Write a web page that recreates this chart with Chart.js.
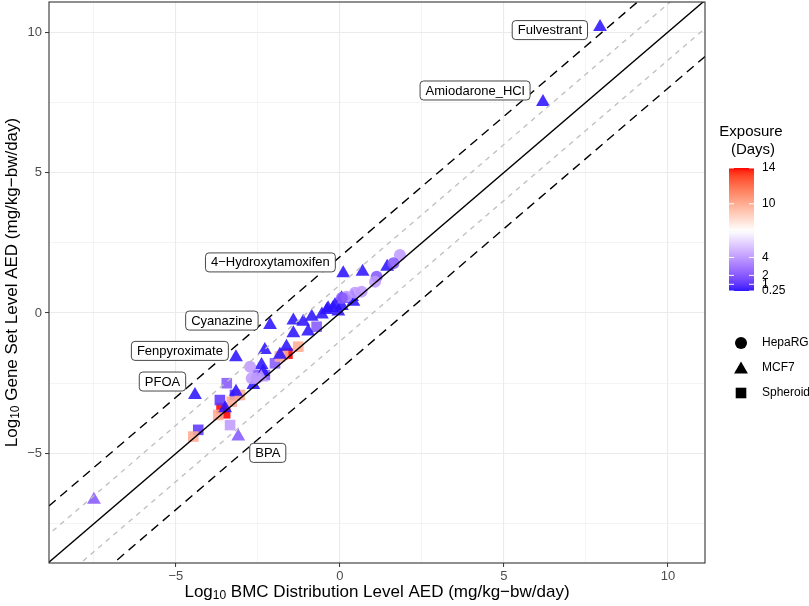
<!DOCTYPE html>
<html>
<head>
<meta charset="utf-8">
<script src="https://cdn.jsdelivr.net/npm/chart.js@4.4.1/dist/chart.umd.min.js"></script>
<style>
  html, body { margin: 0; padding: 0; background: #fff; }
</style>
</head>
<body>
<canvas id="chart" width="809" height="606"></canvas>
<script>
// HepaRG points (circles)
const hepaX   = [1.83, 1.63, 1.12, 1.07, 0.66, 0.46, 0.20, 0.06, -2.74, -2.69, -2.54];
const hepaY   = [2.06, 1.77, 1.29, 1.11, 0.76, 0.72, 0.58, 0.53, -1.91, -2.32, -2.32];
const hepaExp = [4, 2, 2, 4, 4, 4, 4, 2, 4, 4, 4];

// MCF7 points (triangles)
const mcf7X   = [7.93, 6.19, 1.44, 0.69, 0.10, 0.37, 0.21, 0.05, -0.15, -0.36, -0.40, -0.21, 0.06, 0.41,
                 -0.86, -1.12, -1.42, -1.42, -0.97, -2.13, -1.63, -1.83, -2.29, -3.17, -2.39, -2.34,
                 -2.64, -3.17, -3.50, -4.42, -7.50, -3.10, -2.40, -0.55, -0.05];
const mcf7Y   = [10.18, 7.51, 1.65, 1.47, 1.41, 0.57, 0.50, 0.52, 0.28, 0.17, 0.11, 0.18, 0.25, 0.40,
                 -0.13, -0.31, -0.27, -0.72, -0.66, -0.43, -1.20, -1.49, -1.32, -1.58, -1.85, -2.09,
                 -2.56, -2.80, -3.39, -2.92, -6.65, -4.40, -2.30, -0.05, 0.05];
const mcf7Exp = [0.25, 0.25, 0.25, 0.25, 0.25, 0.25, 0.25, 0.25, 0.25, 0.25, 0.25, 0.25, 0.25, 0.25,
                 0.25, 0.25, 0.25, 0.25, 0.25, 0.25, 0.25, 0.25, 0.25, 0.25, 0.25, 0.25,
                 0.25, 0.25, 0.25, 0.25, 2, 2, 4, 0.25, 0.25];

// Spheroid points (squares)
const sphX   = [-1.60, -3.61, -3.50, -0.71, -1.27, -1.73, -1.98, -2.29, -3.20, -3.45, -3.05, -3.30,
                -3.66, -3.71, -3.35, -4.32, -4.47, -1.83, -2.50];
const sphY   = [-1.45, -3.39, -3.57, -0.49, -1.20, -1.49, -1.79, -2.21, -2.92, -2.50, -2.92, -3.16,
                -3.10, -3.63, -3.99, -4.16, -4.40, -1.55, -2.20];
const sphExp = [14, 14, 14, 2, 10, 10, 2, 2, 1, 2, 10, 10, 1, 10, 4, 1, 10, 10, 2];

// labelled chemicals
const labelText = ['Fulvestrant', 'Amiodarone_HCl', '4\u2212Hydroxytamoxifen', 'Cyanazine', 'Fenpyroximate', 'PFOA', 'BPA'];
const labelX    = [6.40, 4.12, -2.12, -3.60, -4.88, -5.41, -2.20];
const labelY    = [10.07, 7.92, 1.80, -0.27, -1.35, -2.44, -4.98];

// reference lines y = x + offset
const refOffsets = [1, -1, 2, -2, 0];
const lineSpan = [-12, 14];

// axes
const xMin = -8.87, xMax = 11.13;
const yMin = -8.9, yMax = 11.07;
const gridValues = [-7.5, -5, -2.5, 0, 2.5, 5, 7.5, 10];
const majorValues = [-5, 0, 5, 10];

// exposure colour scale
const expBreaks = [0.25, 1, 2, 4, 10, 14];
const expMin = 0.25, expMax = 14, expMid = 7;

// ---- colour helpers (Lab interpolation like ggplot) ----
function hexToLab(hex) {
  const c = [1, 3, 5].map(i => parseInt(hex.substr(i, 2), 16) / 255)
    .map(v => v <= 0.04045 ? v / 12.92 : Math.pow((v + 0.055) / 1.055, 2.4));
  const X = (0.4124 * c[0] + 0.3576 * c[1] + 0.1805 * c[2]) / 0.95047;
  const Y = (0.2126 * c[0] + 0.7152 * c[1] + 0.0722 * c[2]);
  const Z = (0.0193 * c[0] + 0.1192 * c[1] + 0.9505 * c[2]) / 1.08883;
  const f = t => t > 0.008856 ? Math.cbrt(t) : 7.787 * t + 16 / 116;
  return [116 * f(Y) - 16, 500 * (f(X) - f(Y)), 200 * (f(Y) - f(Z))];
}

function labToRgb(lab) {
  const fy = (lab[0] + 16) / 116, fx = fy + lab[1] / 500, fz = fy - lab[2] / 200;
  const inv = t => t * t * t > 0.008856 ? t * t * t : (t - 16 / 116) / 7.787;
  const X = inv(fx) * 0.95047, Y = inv(fy), Z = inv(fz) * 1.08883;
  const lin = [
    3.2406 * X - 1.5372 * Y - 0.4986 * Z,
    -0.9689 * X + 1.8758 * Y + 0.0415 * Z,
    0.0557 * X - 0.2040 * Y + 1.0570 * Z
  ];
  return lin.map(v => {
    v = v <= 0.0031308 ? 12.92 * v : 1.055 * Math.pow(v, 1 / 2.4) - 0.055;
    return Math.round(Math.min(1, Math.max(0, v)) * 255);
  });
}

const lowLab = hexToLab('#0000FF'), midLab = hexToLab('#FFFFFF'), highLab = hexToLab('#FF0000');

function exposureColor(v, alpha) {
  const p = 0.5 + (v - expMid) / (2 * Math.max(expMid - expMin, expMax - expMid));
  let a, b, t;
  if (p < 0.5) { a = lowLab; b = midLab; t = p / 0.5; }
  else { a = midLab; b = highLab; t = (p - 0.5) / 0.5; }
  const rgb = labToRgb([0, 1, 2].map(i => a[i] + (b[i] - a[i]) * t));
  return 'rgba(' + rgb[0] + ',' + rgb[1] + ',' + rgb[2] + ',' + alpha + ')';
}

const pointAlpha = 0.88;
const FONT = '"Liberation Sans", Arial, Helvetica, sans-serif';

function toPoints(xs, ys) {
  return xs.map((v, i) => ({ x: v, y: ys[i] }));
}

function scatterSet(label, xs, ys, exps, shape, radius, order) {
  return {
    type: 'scatter',
    label: label,
    data: toPoints(xs, ys),
    pointStyle: shape,
    pointRadius: radius,
    pointBorderWidth: 0,
    pointBackgroundColor: exps.map(e => exposureColor(e, pointAlpha)),
    order: order
  };
}

function refLineSet(off) {
  let color = '#000000', dash = [], width = 1.4;
  if (Math.abs(off) === 1) { color = '#BEBEBE'; dash = [5, 5]; width = 1.3; }
  else if (Math.abs(off) === 2) { color = '#000000'; dash = [9, 6]; width = 1.4; }
  return {
    type: 'line',
    data: lineSpan.map(v => ({ x: v, y: v + off })),
    borderColor: color,
    borderWidth: width,
    borderDash: dash,
    pointRadius: 0,
    fill: false,
    clip: 0,
    order: 0
  };
}

function fmtTick(v) {
  return v < 0 ? '\u2212' + Math.abs(v) : String(v);
}

function isMajor(v) {
  return majorValues.indexOf(v) !== -1;
}

function drawLogTitle(ctx, rest, cx, cy, rotate) {
  ctx.save();
  ctx.translate(cx, cy);
  if (rotate) ctx.rotate(-Math.PI / 2);
  const big = '17px ' + FONT, small = '12px ' + FONT;
  ctx.font = big;
  const w1 = ctx.measureText('Log').width;
  const w3 = ctx.measureText(rest).width;
  ctx.font = small;
  const w2 = ctx.measureText('10').width;
  const x0 = -(w1 + w2 + w3) / 2;
  ctx.fillStyle = '#000';
  ctx.textAlign = 'left';
  ctx.textBaseline = 'middle';
  ctx.font = big; ctx.fillText('Log', x0, 0);
  ctx.font = small; ctx.fillText('10', x0 + w1, 4);
  ctx.font = big; ctx.fillText(rest, x0 + w1 + w2, 0);
  ctx.restore();
}

function roundRect(ctx, x, y, w, h, r) {
  ctx.beginPath();
  ctx.moveTo(x + r, y);
  ctx.lineTo(x + w - r, y);
  ctx.arcTo(x + w, y, x + w, y + r, r);
  ctx.lineTo(x + w, y + h - r);
  ctx.arcTo(x + w, y + h, x + w - r, y + h, r);
  ctx.lineTo(x + r, y + h);
  ctx.arcTo(x, y + h, x, y + h - r, r);
  ctx.lineTo(x, y + r);
  ctx.arcTo(x, y, x + r, y, r);
  ctx.closePath();
}

const overlayPlugin = {
  id: 'overlay',
  afterDatasetsDraw(chart) {
    const { ctx, chartArea: a, scales: { x, y } } = chart;
    ctx.save();
    // chemical labels
    ctx.font = '13px ' + FONT;
    ctx.textAlign = 'center';
    ctx.textBaseline = 'middle';
    labelText.forEach((t, i) => {
      const px = x.getPixelForValue(labelX[i]);
      const py = y.getPixelForValue(labelY[i]);
      const w = ctx.measureText(t).width + 11;
      const h = 19;
      roundRect(ctx, px - w / 2, py - h / 2, w, h, 3.5);
      ctx.fillStyle = '#FFFFFF';
      ctx.fill();
      ctx.lineWidth = 0.9;
      ctx.strokeStyle = '#333333';
      ctx.stroke();
      ctx.fillStyle = '#000000';
      ctx.fillText(t, px, py + 0.5);
    });
    // panel border
    ctx.lineWidth = 1.1;
    ctx.strokeStyle = '#333333';
    ctx.strokeRect(a.left, a.top, a.right - a.left, a.bottom - a.top);
    ctx.restore();
  },
  afterDraw(chart) {
    const { ctx, chartArea: a } = chart;
    ctx.save();
    // axis titles
    drawLogTitle(ctx, ' BMC Distribution Level AED (mg/kg\u2212bw/day)', (a.left + a.right) / 2, 592, false);
    drawLogTitle(ctx, ' Gene Set Level AED (mg/kg\u2212bw/day)', 12, (a.top + a.bottom) / 2, true);

    // exposure colourbar
    const barL = 729, barR = 754, barT = 168, barB = 291;
    ctx.fillStyle = '#000';
    ctx.font = '15px ' + FONT;
    ctx.textAlign = 'center';
    ctx.textBaseline = 'middle';
    ctx.fillText('Exposure', 751, 132);
    ctx.fillText('(Days)', 753, 150);
    const grad = ctx.createLinearGradient(0, barB, 0, barT);
    for (let k = 0; k <= 40; k++) {
      const v = expMin + (expMax - expMin) * k / 40;
      grad.addColorStop(k / 40, exposureColor(v, 1));
    }
    ctx.fillStyle = grad;
    ctx.fillRect(barL, barT, barR - barL, barB - barT);
    ctx.font = '12px ' + FONT;
    ctx.textAlign = 'left';
    ctx.strokeStyle = '#FFFFFF';
    ctx.lineWidth = 1;
    expBreaks.forEach(v => {
      const py = barB - (v - expMin) / (expMax - expMin) * (barB - barT);
      ctx.beginPath();
      ctx.moveTo(barL, py); ctx.lineTo(barL + 5, py);
      ctx.moveTo(barR - 5, py); ctx.lineTo(barR, py);
      ctx.stroke();
      ctx.fillStyle = '#000';
      ctx.fillText(String(v), 762, py);
    });

    // cell type legend
    const shapes = [['circle', 'HepaRG', 6], ['triangle', 'MCF7', 8], ['rect', 'Spheroid', 7.5]];
    shapes.forEach((s, i) => {
      const py = 343 + i * 25;
      ctx.fillStyle = '#000';
      ctx.strokeStyle = '#000';
      Chart.helpers.drawPoint(ctx, { pointStyle: s[0], radius: s[2], borderWidth: 0 }, 741, py + (s[0] === 'triangle' ? 1.5 : 0));
      ctx.fillStyle = '#000';
      ctx.fillText(s[1], 762, py);
    });
    ctx.restore();
  }
};

const datasets = refOffsets.map(refLineSet).concat([
  scatterSet('Spheroid', sphX, sphY, sphExp, 'rect', 7.5, 3),
  scatterSet('MCF7', mcf7X, mcf7Y, mcf7Exp, 'triangle', 8, 2),
  scatterSet('HepaRG', hepaX, hepaY, hepaExp, 'circle', 6, 1)
]);

function axisOptions(min, max, isX) {
  return {
    type: 'linear',
    min: min,
    max: max,
    afterBuildTicks: s => { s.ticks = gridValues.map(v => ({ value: v })); },
    afterFit: s => {
      if (isX) s.height = 43; else s.width = 49;
      s.paddingTop = 0; s.paddingBottom = 0; s.paddingLeft = 0; s.paddingRight = 0;
    },
    border: { display: false },
    grid: {
      color: '#EBEBEB',
      lineWidth: c => (c.tick && isMajor(c.tick.value)) ? 1.1 : 0.55,
      tickColor: c => (c.tick && isMajor(c.tick.value)) ? '#333333' : 'rgba(0,0,0,0)',
      tickLength: 4,
      tickWidth: 1
    },
    ticks: {
      autoSkip: false,
      maxRotation: 0,
      padding: isX ? 2 : 3,
      color: '#4D4D4D',
      font: { size: 13, family: FONT },
      callback: v => isMajor(v) ? fmtTick(v) : ''
    }
  };
}

new Chart(document.getElementById('chart').getContext('2d'), {
  type: 'scatter',
  data: { datasets: datasets },
  options: {
    responsive: false,
    animation: false,
    layout: { autoPadding: false, padding: { left: 0, right: 104, top: 2, bottom: 0 } },
    plugins: { legend: { display: false }, tooltip: { enabled: false } },
    scales: {
      x: axisOptions(xMin, xMax, true),
      y: axisOptions(yMin, yMax, false)
    }
  },
  plugins: [overlayPlugin]
});
</script>
</body>
</html>
